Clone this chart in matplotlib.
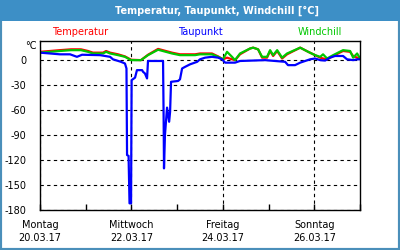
import matplotlib
matplotlib.use("Agg")
import matplotlib.pyplot as plt
from matplotlib.patches import Rectangle

# hours since Montag 20.03.17 00:00
temp_hours = [0, 5.3, 10.5, 16.3, 21.5, 25.2, 27.8, 33.1, 34.7, 36.8, 41.0, 44.6, 47.8,
              53.0, 56.7, 62.0, 69.3, 73.5, 81.4, 84.0, 90.3, 93.5, 96.1, 98.2, 100.8,
              102.4, 105.0, 110.3, 111.9, 114.5, 116.6, 119.2, 120.8, 122.4, 124.5,
              127.1, 129.7, 136.6, 140.8, 144.4, 147.1, 148.6, 150.7, 153.9, 159.1,
              162.8, 164.4, 166.5, 168.0]
temperatur = [10, 11, 12, 13, 13, 11, 9, 9, 11, 9, 7, 4.5, 0.5,
              0, 6.5, 13.5, 9, 7, 7, 8, 8, 4.5, 1, 3, 1,
              0, 7, 14, 15, 13, 3, 3, 11, 5, 11,
              2, 7, 15, 10, 6, 3, 2, 1, 5, 11,
              10, 5, 3, 2]
windchill = [9, 10, 11, 12, 12, 10, 8, 8, 10, 8, 6, 4, 0,
             0, 6, 12.5, 8, 6, 6, 7, 7, 4, 1, 10, 4,
             0, 8, 14, 15, 13, 4, 4, 12, 6, 12,
             3, 8, 15, 10, 6, 4, 7, 2, 6, 12,
             11, 3, 8, 2]

dew_hours = [0, 5.3, 10.5, 15.8, 19.4, 22.1, 31.5, 36.8, 38.3, 42.5, 44.6, 45.4, 45.7,
             46.5, 47.0, 47.8, 48.1, 49.9, 50.9, 53.6, 54.1, 55.1, 56.2, 56.7, 64.6,
             64.9, 65.1, 65.6, 66.7, 67.8, 68.3, 68.8, 72.5, 73.5, 74.6, 76.2, 78.8,
             82.5, 84.0, 86.7, 90.3, 93.5, 95.6, 97.2, 102.4, 105.0, 118.2, 128.7,
             130.2, 133.9, 136.6, 141.8, 144.4, 147.1, 149.7, 152.3, 154.9, 159.1,
             161.2, 164.4, 166.5, 168.0]
taupunkt = [9, 8, 7, 7, 4, 6.5, 6, 4, 1, -2, -4, -10, -114,
            -115, -172, -172, -24, -21, -12, -12, -14, -16, -22, -1, -1,
            -68, -130, -90, -57, -74, -62, -26, -25, -23, -10, -8, -5,
            -2, 1, 3, 4, 3, 1, -3, -3, -1, 0, -2,
            -6, -6, -3, 1, 2, 0, -0.5, 3, 5, 5,
            1, 0, 1, 1]

y_ticks = [0, -30, -60, -90, -120, -150, -180]
day_ticks = [0, 48, 96, 144]
day_labels = ["Montag\n20.03.17", "Mittwoch\n22.03.17", "Freitag\n24.03.17", "Sonntag\n26.03.17"]

plt.rcParams['font.family'] = ['DejaVu Sans']

fig = plt.figure(figsize=(4, 2.5), dpi=100)
ax = fig.add_axes([0.1, 0.16, 0.8, 0.676])

ax.plot(temp_hours, temperatur, color='#ff0000', lw=1.6)
ax.plot(temp_hours, windchill, color='#00c800', lw=1.6)
ax.plot(dew_hours, taupunkt, color='#0000ff', lw=1.6)

ax.set_xlim(0, 168)
ax.set_ylim(-180, 23)
ax.set_yticks(y_ticks)
ax.set_yticklabels([str(v) for v in y_ticks], fontsize=7)
ax.set_xticks(day_ticks)
ax.set_xticklabels(day_labels, fontsize=7, linespacing=1.45)
ax.set_xticks([24, 72, 120, 168], minor=True)
ax.tick_params(axis='x', which='both', direction='in', length=4, width=1, pad=7)
ax.tick_params(axis='y', length=0, pad=10)
ax.grid(True, which='major', color='black', linestyle=(0, (3, 3)), lw=0.8)
for s in ax.spines.values():
    s.set_linewidth(1.0)

ax.text(-0.012, 17, "°C", transform=ax.get_yaxis_transform(), ha='right', va='center', fontsize=7)

fig.text(0.2, 0.872, "Temperatur", color='#ff0000', ha='center', va='center', fontsize=7)
fig.text(0.5, 0.872, "Taupunkt", color='#0000ff', ha='center', va='center', fontsize=7)
fig.text(0.8, 0.872, "Windchill", color='#00c800', ha='center', va='center', fontsize=7)

# frame and title bar
fig.patches.append(Rectangle((0, 0), 1, 1, transform=fig.transFigure, fill=False,
                             edgecolor='#4a8fba', lw=3, zorder=0))
fig.patches.append(Rectangle((0, 0.916), 1, 0.084, transform=fig.transFigure,
                             facecolor='#3d8fc6', edgecolor='none', zorder=0))
fig.text(0.543, 0.958, "Temperatur, Taupunkt, Windchill [°C]", color='white',
         fontweight='bold', ha='center', va='center', fontsize=7)

fig.savefig("out.png", dpi=100)
